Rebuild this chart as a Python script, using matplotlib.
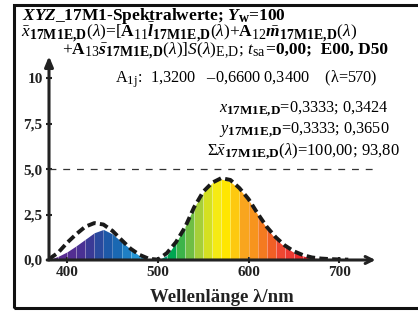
import matplotlib
matplotlib.use("Agg")
import matplotlib.pyplot as plt
import matplotlib._mathtext as mathtext_internal
from matplotlib.patches import Rectangle

# spectral data, 10 nm steps
wavelengths = [380, 390, 400, 410, 420, 430, 440, 450, 460, 470, 480, 490,
               500, 510, 520, 530, 540, 550, 560, 570, 580, 590, 600, 610,
               620, 630, 640, 650, 660, 670, 680, 690, 700, 710]
x_17m1 = [0.02, 0.20, 0.45, 0.78, 1.14, 1.50, 1.68, 1.43, 1.00, 0.60, 0.22, 0.00,
          0.00, 0.25, 0.95, 1.85, 2.90, 3.70, 4.25, 4.45, 4.30, 3.90, 3.30, 2.50,
          1.75, 1.15, 0.72, 0.42, 0.22, 0.11, 0.06, 0.03, 0.01, 0.00]
x_cie = [0.05, 0.40, 0.95, 1.42, 1.83, 2.03, 1.95, 1.60, 1.10, 0.62, 0.28, 0.07,
         0.02, 0.38, 0.98, 1.80, 2.90, 3.75, 4.25, 4.50, 4.40, 3.95, 3.35, 2.56,
         1.83, 1.25, 0.80, 0.48, 0.27, 0.14, 0.08, 0.05, 0.03, 0.02]
band_colors = ['#5b2c8f', '#5a2d91', '#532e92', '#4a3194', '#3a3a96', '#2a4a9e',
               '#1d59a8', '#1a68b2', '#1f7fc4', '#2596d6', '#28a8e0', '#1fb0b0',
               '#00a07a', '#00a651', '#3cb44a', '#6fbe44', '#a6cf38', '#d4e021',
               '#f5ea14', '#ffe600', '#fdc90f', '#f9a51e', '#f7941d', '#f47a20',
               '#f15f25', '#ef4731', '#ee3a33', '#ed2a2b', '#ed1c24', '#ec1c24',
               '#e81c24', '#e41b23', '#e01b23']
x_ticks = [400, 500, 600, 700]
y_ticks = [0, 2.5, 5, 7.5, 10]
y_ticklabels = ['0,0', '2,5', '5,0', '7,5', '10']

# larger subscripts, like the original typesetting
mathtext_internal.SHRINK_FACTOR = 0.8
plt.rcParams['mathtext.fontset'] = 'custom'
plt.rcParams['mathtext.rm'] = 'Liberation Serif'
plt.rcParams['mathtext.it'] = 'Liberation Serif:italic'
plt.rcParams['mathtext.bf'] = 'Liberation Serif:bold'
plt.rcParams['mathtext.bfit'] = 'Liberation Serif:bold:italic'
plt.rcParams['font.family'] = ['Liberation Serif', 'DejaVu Serif']

W, H = 418, 311
fig = plt.figure(figsize=(W / 100, H / 100), dpi=100)
ax = fig.add_axes([49 / W, 51 / H, 326.5 / W, 203.8 / H])
ax.set_xlim(380, 740)
ax.set_ylim(0, 11.2)
for s in ax.spines.values():
    s.set_visible(False)

# coloured spectrum fill
for i in range(len(wavelengths) - 1):
    ax.fill_between(wavelengths[i:i + 2], 0, x_17m1[i:i + 2],
                    color=band_colors[i], lw=0)
ax.vlines(wavelengths[1:-1], 0, x_17m1[1:-1], color='white', lw=0.4, alpha=0.45)

ax.plot(wavelengths, x_cie, color='#1a1a1a', lw=2.8, dashes=(2.2, 1.1),
        dash_capstyle='butt')
ax.plot([380, 737], [5, 5], color='#333333', lw=0.9, dashes=(5.5, 5.5))

# axes with arrows
ax.annotate('', xy=(380, 11.2), xytext=(380, 0), annotation_clip=False,
            arrowprops=dict(arrowstyle='-|>,head_length=0.6,head_width=0.25',
                            lw=2.2, color='#222222', shrinkA=0, shrinkB=0))
ax.annotate('', xy=(740, 0), xytext=(378, 0), annotation_clip=False,
            arrowprops=dict(arrowstyle='->,head_length=0.5,head_width=0.25',
                            lw=2.2, color='#222222', shrinkA=0, shrinkB=0))

ax.set_xticks(x_ticks)
ax.set_xticklabels([str(t) for t in x_ticks])
ax.set_yticks(y_ticks)
ax.set_yticklabels(y_ticklabels)
ax.tick_params(direction='inout', length=5, width=1.5, color='#222222', pad=2,
               labelsize=11)
for lab in ax.get_xticklabels() + ax.get_yticklabels():
    lab.set_fontweight('bold')
    lab.set_color('#222222')

fig.text(222 / W, 1 - 302 / H, 'Wellenlänge λ/nm', ha='center', va='baseline',
         fontsize=13.5, fontweight='bold', color='#222222')

# header texts
sub = r'_{\mathbf{17M1E{,}D}}'
fig.text(22 / W, 1 - 20.5 / H,
         r'$\mathbfit{XYZ}$_17M1-Spektralwerte; $\mathbfit{Y}_\mathbf{w}$=100',
         fontsize=12.5, fontweight='bold', va='baseline')
fig.text(21 / W, 1 - 37 / H,
         r'$\bar{x}' + sub + r'(\lambda)$=[$\mathbf{A}_{11}\bar{\mathbfit{l}}' + sub
         + r'(\lambda)$+$\mathbf{A}_{12}\bar{\mathbfit{m}}' + sub + r'(\lambda)$',
         fontsize=12.5, va='baseline')
line3 = fig.text(62 / W, 1 - 54 / H,
                 r'+$\mathbf{A}_{13}\bar{\mathbfit{s}}' + sub
                 + r'(\lambda)$]$\mathit{S}(\lambda)_\mathrm{E{,}D}$; '
                 + r'$\mathit{t}_\mathrm{sa}$',
                 fontsize=12.5, va='baseline')
fig.canvas.draw()
bb = line3.get_window_extent()
fig.text(bb.x1 / W, 1 - 54 / H, '=0,00;  E00, D50', fontsize=12.5,
         fontweight='bold', va='baseline')
fig.text(115 / W, 1 - 83 / H,
         r'A$_\mathrm{1j}$:  1,3200   –0,6600 0,3400    (λ=570)',
         fontsize=11.7, va='baseline')
fig.text(304 / W, 1 - 112 / H, r'$\mathit{x}' + sub + r'$=0,3333; 0,3424',
         fontsize=11.7, va='baseline', ha='center')
fig.text(304 / W, 1 - 133 / H, r'$\mathit{y}' + sub + r'$=0,3333; 0,3650',
         fontsize=11.7, va='baseline', ha='center')
fig.text(303 / W, 1 - 155 / H,
         r'$\Sigma\bar{x}' + sub + r'(\lambda)$=100,00; 93,80',
         fontsize=12, va='baseline', ha='center')

# outer frame
fig.patches.append(Rectangle((14 / W, 3 / H), 420 / W, 303 / H,
                             transform=fig.transFigure, fill=False,
                             lw=2.2, edgecolor='#111111'))

fig.savefig('out.png', dpi=100)
